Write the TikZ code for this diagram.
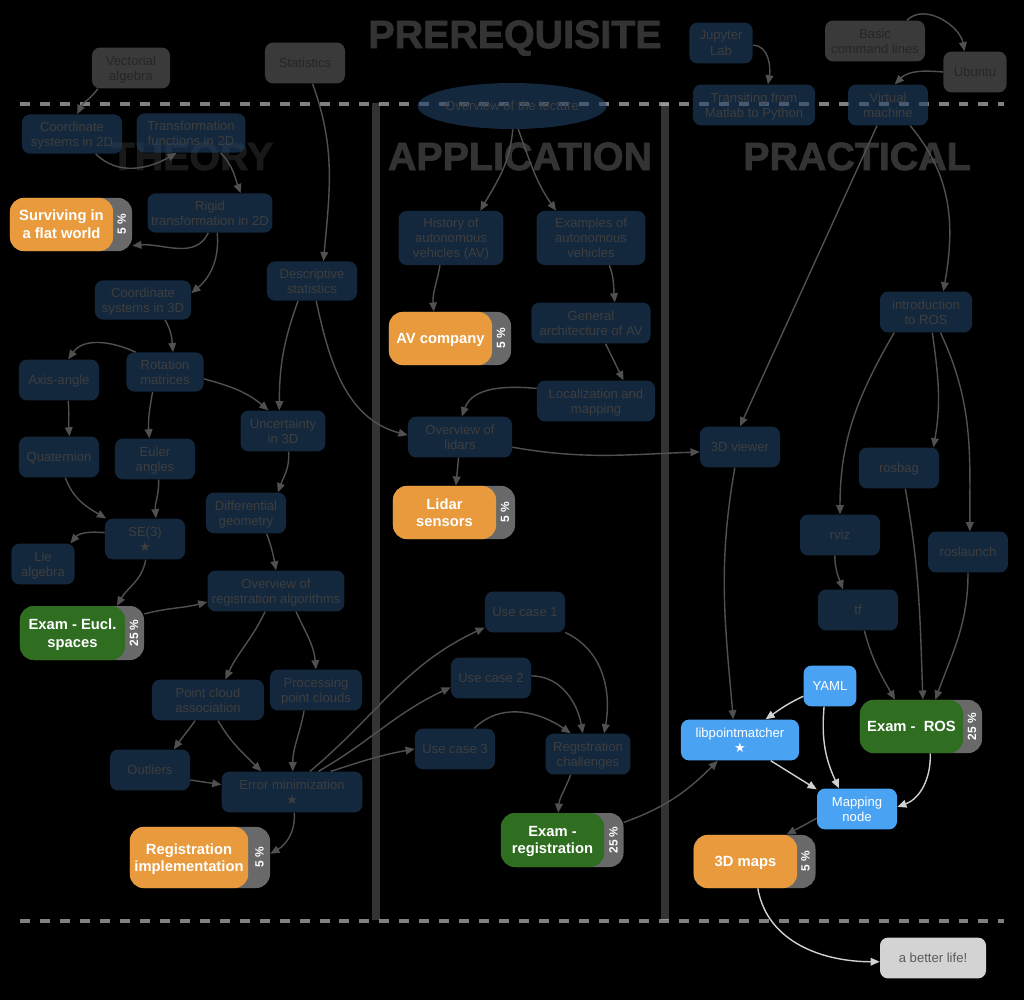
\documentclass[tikz,border=0pt]{standalone}
\usepackage{fontspec}
\setmainfont{Liberation Sans}
\newfontfamily\symfont{DejaVu Sans}
\newfontfamily\headfont[BoldFeatures={FakeBold=2}]{Liberation Sans}
\usetikzlibrary{arrows.meta,shapes.geometric}

\definecolor{navy}{HTML}{214167}
\definecolor{dimtext}{HTML}{3E3E3E}
\definecolor{prereqfill}{HTML}{3A3A3A}
\definecolor{prereqtext}{HTML}{262626}
\definecolor{gradeorange}{HTML}{E89A3C}
\definecolor{gradegreen}{HTML}{2F6D21}
\definecolor{tabgray}{HTML}{696969}
\definecolor{toolblue}{HTML}{4AA2F2}
\definecolor{goalgray}{HTML}{D3D3D3}
\definecolor{goaltext}{HTML}{5B5B5B}
\definecolor{headgray}{HTML}{333333}
\definecolor{linkgray}{HTML}{505050}
\definecolor{linklight}{HTML}{D0D0D0}

\newcommand{\keystar}{{\symfont ★}}

\begin{document}
\begin{tikzpicture}[
    x=0.025cm, y=0.025cm,
    topic/.style={rectangle, rounded corners=0.2cm, fill=navy, fill opacity=0.6, text opacity=1, text=dimtext, minimum width=2cm, minimum height=1.02cm, align=center, inner sep=2pt, text depth=-1.5pt, font=\fontsize{9.3}{10.7}\selectfont},
    prereq/.style={topic, fill=prereqfill, fill opacity=1, text=prereqtext},
    tool/.style={topic, fill=toolblue, fill opacity=1, text=white},
    goal/.style={topic, fill=goalgray, fill opacity=1, text=goaltext},
    tab/.style={rectangle, rounded corners=0.35cm, fill=tabgray, minimum width=3.05cm, minimum height=1.33cm},
    grade/.style={rectangle, rounded corners=0.35cm, minimum width=2.58cm, minimum height=1.33cm, align=center, text=white, text depth=-0.5pt, font=\fontsize{10.5}{12.6}\selectfont\bfseries},
    pct/.style={rotate=90, text=white, inner sep=0pt, font=\fontsize{8.5}{10}\selectfont\bfseries},
    heading/.style={anchor=base, text=headgray, font=\fontsize{28}{30}\selectfont\headfont\bfseries},
    sepline/.style={draw=white!47, opacity=0.5, line width=2.85pt, dash pattern=on 7.1pt off 7.1pt},
    link/.style={draw=linkgray, line width=1pt, -{Triangle[length=6.5pt,width=5.5pt]}},
    lightlink/.style={link, draw=linklight}
]
    \fill[black] (0,0) rectangle (1024,-1000);

    % Headings
    \node[heading] (h-pre) at (515,-48) {PREREQUISITE};
    \node[heading, text=white!10!black] (h-theory) at (192,-170) {THEORY};
    \node[heading] (h-app) at (520,-170) {APPLICATION};
    \node[heading] (h-prac) at (857,-170) {PRACTICAL};

    % Column bars and separators
    \fill[headgray] (372,-103) rectangle (380,-920);
    \fill[headgray] (661,-103) rectangle (669,-920);
    \draw[sepline] (20,-104) -- (1004,-104);
    \draw[sepline] (20,-921) -- (1004,-921);

    % Prerequisites
    \node[prereq, minimum width=1.95cm] (vect) at (131,-68) {Vectorial\\algebra};
    \node[prereq] (stats) at (305,-63) {Statistics};
    \node[topic, minimum width=1.58cm] (jupyter) at (721,-43) {Jupyter\\Lab};
    \node[prereq, minimum width=2.5cm] (cmd) at (875,-41) {Basic\\command lines};
    \node[prereq, minimum width=1.58cm] (ubuntu) at (975,-72) {Ubuntu};

    % Theory
    \node[topic, minimum width=2.5cm, minimum height=0.98cm] (cs2d) at (72,-134) {Coordinate\\systems in 2D};
    \node[topic, minimum width=2.72cm, minimum height=0.98cm] (tf2d) at (191,-133) {Transformation\\functions in 2D};
    \node[topic, minimum width=3.12cm, minimum height=0.98cm] (rigid) at (210,-213) {Rigid\\transformation in 2D};
    \node[tab] (flat-tab) at (71,-224.5) {};
    \node[grade, fill=gradeorange] (flat) at (61.5,-224.5) {Surviving in\\a flat world};
    \node[pct] (flat-pct) at ([xshift=-0.26cm]flat-tab.east) {5 \%};
    \node[topic, minimum width=2.4cm, minimum height=0.98cm] (cs3d) at (143,-300) {Coordinate\\systems in 3D};
    \node[topic, minimum width=2.25cm, minimum height=0.98cm] (descr) at (312,-281) {Descriptive\\statistics};
    \node[topic] (axis) at (59,-380) {Axis-angle};
    \node[topic, minimum width=1.93cm, minimum height=0.98cm] (rot) at (165,-372) {Rotation\\matrices};
    \node[topic, minimum width=2.12cm] (unc) at (283,-431) {Uncertainty\\in 3D};
    \node[topic] (quat) at (59,-457) {Quaternion};
    \node[topic] (euler) at (155,-459) {Euler\\angles};
    \node[topic] (diff) at (246,-513) {Differential\\geometry};
    \node[topic] (se3) at (145,-539) {SE(3)\\\keystar};
    \node[topic, minimum width=1.58cm] (lie) at (43,-564) {Lie\\algebra};
    \node[topic, minimum width=3.42cm] (regover) at (276,-591) {Overview of\\registration algorithms};
    \node[tab, minimum width=3.1cm, minimum height=1.35cm] (eucl-tab) at (82,-633) {};
    \node[grade, fill=gradegreen, minimum width=2.63cm, minimum height=1.35cm] (eucl) at (72.5,-633) {Exam - Eucl.\\spaces};
    \node[pct] (eucl-pct) at ([xshift=-0.26cm]eucl-tab.east) {25 \%};
    \node[topic, minimum width=2.8cm] (assoc) at (208,-700) {Point cloud\\association};
    \node[topic, minimum width=2.3cm] (proc) at (316,-690) {Processing\\point clouds};
    \node[topic] (outliers) at (150,-770) {Outliers};
    \node[topic, minimum width=3.52cm] (errmin) at (292,-792) {Error minimization\\\keystar};
    \node[tab, minimum width=3.5cm, minimum height=1.53cm] (impl-tab) at (200,-857.5) {};
    \node[grade, fill=gradeorange, minimum width=2.95cm, minimum height=1.53cm] (impl) at (189,-857.5) {Registration\\implementation};
    \node[pct] (impl-pct) at ([xshift=-0.27cm]impl-tab.east) {5 \%};

    % Application
    \node[ellipse, fill=navy, fill opacity=0.6, text opacity=1, text=dimtext, minimum width=4.05cm, minimum height=1.15cm, inner sep=0pt, font=\fontsize{9.3}{10.7}\selectfont] (lecture) at (512,-106) {Overview of the lecture};
    \node[topic, minimum width=2.62cm, minimum height=1.35cm] (history) at (451,-238) {History of\\autonomous\\vehicles (AV)};
    \node[topic, minimum width=2.72cm, minimum height=1.35cm] (examples) at (591,-238) {Examples of\\autonomous\\vehicles};
    \node[tab] (avco-tab) at (450,-338.5) {};
    \node[grade, fill=gradeorange] (avco) at (440.5,-338.5) {AV company};
    \node[pct] (avco-pct) at ([xshift=-0.26cm]avco-tab.east) {5 \%};
    \node[topic, minimum width=2.98cm] (arch) at (591,-323) {General\\architecture of AV};
    \node[topic, minimum width=2.95cm] (locmap) at (596,-401) {Localization and\\mapping};
    \node[topic, minimum width=2.6cm] (lidars) at (460,-437) {Overview of\\lidars};
    \node[tab] (lidar-tab) at (454,-512.5) {};
    \node[grade, fill=gradeorange] (lidar) at (444.5,-512.5) {Lidar\\sensors};
    \node[pct] (lidar-pct) at ([xshift=-0.26cm]lidar-tab.east) {5 \%};
    \node[topic] (case1) at (525,-612) {Use case 1};
    \node[topic] (case2) at (491,-678) {Use case 2};
    \node[topic] (case3) at (455,-749) {Use case 3};
    \node[topic, minimum width=2.12cm] (challenges) at (588,-754) {Registration\\challenges};
    \node[tab, minimum height=1.35cm] (examreg-tab) at (562.5,-840) {};
    \node[grade, fill=gradegreen, minimum height=1.35cm] (examreg) at (552.5,-840) {Exam -\\registration};
    \node[pct] (examreg-pct) at ([xshift=-0.26cm]examreg-tab.east) {25 \%};

    % Practical
    \node[topic, minimum width=3.05cm] (matlab) at (754,-105) {Transiting from\\Matlab to Python};
    \node[topic] (vm) at (888,-105) {Virtual\\machine};
    \node[topic, minimum width=2.3cm] (ros) at (926,-312) {introduction\\to ROS};
    \node[topic] (viewer) at (740,-447) {3D viewer};
    \node[topic] (rosbag) at (899,-468) {rosbag};
    \node[topic] (rviz) at (840,-535) {rviz};
    \node[topic] (roslaunch) at (968,-552) {roslaunch};
    \node[topic] (tfnode) at (858,-610) {tf};
    \node[tool, minimum width=1.32cm] (yaml) at (830,-686) {YAML};
    \node[tab] (examros-tab) at (921,-726.5) {};
    \node[grade, fill=gradegreen] (examros) at (911.5,-726.5) {Exam -\ \ ROS};
    \node[pct] (examros-pct) at ([xshift=-0.26cm]examros-tab.east) {25 \%};
    \node[tool, minimum width=2.95cm] (libpm) at (740,-740) {libpointmatcher\\\keystar};
    \node[tool] (mapping) at (857,-809) {Mapping\\node};
    \node[tab] (maps-tab) at (754.5,-861.5) {};
    \node[grade, fill=gradeorange] (maps) at (745.5,-861.5) {3D maps};
    \node[pct] (maps-pct) at ([xshift=-0.26cm]maps-tab.east) {5 \%};
    \node[goal, minimum width=2.65cm] (better) at (933,-958) {a better life!};

    % Links: prerequisites
    \draw[link] (vect.212) to[out=235,in=65] (cs2d.75);
    \draw[link] (stats.290) to[out=-70,in=85] (descr.60);
    \draw[link] (jupyter.356) to[out=0,in=80] (matlab.56);
    \draw[link] (cmd.33) to[out=45,in=100] (ubuntu.117);
    \draw[link] (ubuntu.180) to[out=175,in=45] (vm.72);

    % Links: theory
    \draw[link] (cs2d.320) to[out=-45,in=210] (tf2d.234);
    \draw[link] (tf2d.326) to[out=-45,in=110] (rigid.33);
    \draw[link] (rigid.265) to[out=245,in=5] (flat-tab.341);
    \draw[link] (rigid.290) to[out=275,in=40] (cs3d.8);
    \draw[link] (cs3d.318) to[out=-60,in=95] (rot.68);
    \draw[link] (rot.146) to[out=155,in=55] (axis.66);
    \draw[link] (rot.238) to[out=260,in=95] (euler.105);
    \draw[link] (rot.350) to[out=-15,in=140] (unc.125);
    \draw[link] (descr.235) to[out=250,in=90] (unc.100);
    \draw[link] (descr.282) to[out=-78,in=165] (lidars.178);
    \draw[link] (axis.294) to[out=-85,in=95] (quat.63);
    \draw[link] (quat.287) to[out=-70,in=150] (se3.152);
    \draw[link] (euler.280) to[out=-88,in=95] (se3.62);
    \draw[link] (se3.171) to[out=175,in=50] (lie.37);
    \draw[link] (se3.272) to[out=260,in=60] (eucl-tab.38);
    \draw[link] (unc.285) to[out=-85,in=70] (diff.33);
    \draw[link] (diff.315) to[out=-70,in=100] (regover.90);
    \draw[link] (eucl-tab.17) to[out=15,in=195] (regover.189);
    \draw[link] (regover.242) to[out=245,in=65] (assoc.50);
    \draw[link] (regover.314) to[out=-65,in=95] (proc.90);
    \draw[link] (assoc.238) to[out=235,in=55] (outliers.41);
    \draw[link] (assoc.296) to[out=-60,in=135] (errmin.146);
    \draw[link] (proc.240) to[out=-100,in=90] (errmin.88);
    \draw[link] (outliers.346) -- (errmin.174);
    \draw[link] (errmin.276) to[out=-85,in=30] (impl-tab.3);
    \draw[link] (errmin.49) to[out=40,in=205] (case1.201);
    \draw[link] (errmin.38) to[out=30,in=205] (case2.193);
    \draw[link] (errmin.28) to[out=18,in=190] (case3.180);

    % Links: application
    \draw[link] (lecture.272) to[out=265,in=60] (history.43);
    \draw[link] (lecture.285) to[out=-70,in=125] (examples.142);
    \draw[link] (history.248) to[out=260,in=95] (avco-tab.121);
    \draw[link] (examples.304) to[out=-70,in=95] (arch.41);
    \draw[link] (arch.305) -- (locmap.37);
    \draw[link] (locmap.168) to[out=175,in=70] (lidars.85);
    \draw[link] (lidars.266) -- (lidar-tab.86);
    \draw[link] (lidars.349) to[out=-10,in=182] (viewer.187);
    \draw[link] (case1.333) to[out=-25,in=80] (challenges.52);
    \draw[link] (case2.3) to[out=0,in=100] (challenges.104);
    \draw[link] (case3.47) to[out=45,in=145] (challenges.130);
    \draw[link] (challenges.230) to[out=250,in=85] (examreg-tab.99);
    \draw[link] (examreg-tab.16) to[out=20,in=225] (libpm.223);

    % Links: practical
    \draw[link] (vm.242) -- (viewer.90);
    \draw[link] (vm.317) to[out=-50,in=80] (ros.50);
    \draw[link] (ros.213) to[out=240,in=90] (rviz.90);
    \draw[link] (ros.287) to[out=-82,in=80] (rosbag.31);
    \draw[link] (ros.305) to[out=-65,in=90] (roslaunch.85);
    \draw[link] (rviz.256) to[out=-90,in=110] (tfnode.126);
    \draw[link] (tfnode.287) to[out=-75,in=120] (examros-tab.134);
    \draw[link] (rosbag.287) to[out=-80,in=92] (examros-tab.86);
    \draw[link] (roslaunch.270) to[out=-90,in=70] (examros-tab.62);
    \draw[link] (viewer.256) to[out=-100,in=95] (libpm.108);
    \draw[lightlink] (yaml.201) to[out=205,in=35] (libpm.39);
    \draw[lightlink] (yaml.254) to[out=-95,in=115] (mapping.131);
    \draw[lightlink] (libpm.326) -- (mapping.154);
    \draw[lightlink] (examros-tab.289) to[out=-88,in=20] (mapping.3);
    \draw[link] (mapping.193) -- (maps-tab.40);
    \draw[lightlink] (maps-tab.277) to[out=-80,in=180] (better.184);
\end{tikzpicture}
\end{document}
